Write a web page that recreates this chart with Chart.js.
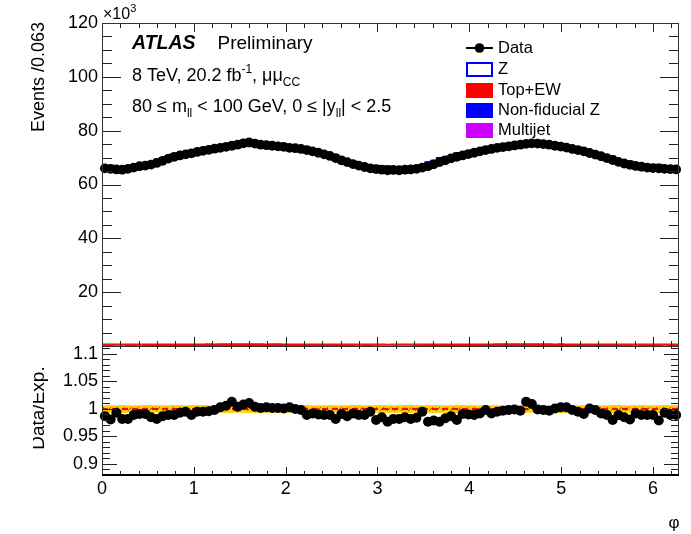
<!DOCTYPE html>
<html><head><meta charset="utf-8">
<script src="https://cdn.jsdelivr.net/npm/chart.js@4.4.1/dist/chart.umd.min.js"></script>
<style>
html,body{margin:0;padding:0;background:#fff;}
#wrap{position:relative;width:691px;height:534px;overflow:hidden;}
canvas{position:absolute;left:0;top:0;}
</style></head><body>
<div id="wrap"><canvas id="cTop" width="691" height="534"></canvas><canvas id="cBot" width="691" height="534"></canvas></div>
<script>
// ---------------- DATA ----------------
const nBins = 100;
const phiMax = 2 * Math.PI;
const xTicks = [0, 1, 2, 3, 4, 5, 6];
const topYTicks = [0, 20, 40, 60, 80, 100, 120];
const ratioYTicks = [0.9, 0.95, 1, 1.05, 1.1];

// Data events per bin (x10^3)
const dataEvents = [
  66.0, 65.8, 65.6, 65.5, 65.8, 66.3, 66.8, 67.0, 67.4, 68.0,
  68.8, 69.6, 70.3, 70.8, 71.2, 71.6, 72.1, 72.5, 72.9, 73.3,
  73.6, 74.0, 74.4, 74.8, 75.3, 75.6, 75.2, 74.8, 74.6, 74.4,
  74.2, 74.0, 73.6, 73.5, 73.2, 72.8, 72.3, 71.8, 71.2, 70.6,
  69.8, 69.0, 68.3, 67.6, 67.0, 66.5, 66.0, 65.7, 65.5, 65.3,
  65.4, 65.3, 65.5, 65.6, 65.8, 66.3, 66.8, 67.5, 68.3, 69.0,
  69.7, 70.3, 70.8, 71.3, 71.8, 72.3, 72.8, 73.2, 73.6, 73.9,
  74.2, 74.5, 74.8, 75.1, 75.3, 75.2, 75.0, 74.8, 74.4, 74.1,
  73.7, 73.2, 72.8, 72.3, 71.7, 71.1, 70.5, 69.8, 69.1, 68.4,
  67.8, 67.3, 66.9, 66.6, 66.3, 66.1, 66.0, 65.8, 65.7, 65.6
];

// Data / Expectation ratio per bin
const ratioVals = [
  0.987, 0.981, 0.993, 0.982, 0.982, 0.989, 0.991, 0.991, 0.985, 0.982,
  0.987, 0.989, 0.989, 0.993, 0.995, 0.989, 0.995, 0.995, 0.996, 0.998,
  1.003, 1.006, 1.013, 1.004, 1.008, 1.011, 1.004, 1.002, 1.003, 1.002,
  1.002, 1.001, 1.003, 1.000, 0.998, 0.989, 0.992, 0.990, 0.989, 0.989,
  0.982, 0.991, 0.987, 0.992, 0.989, 0.989, 0.995, 0.980, 0.985, 0.977,
  0.982, 0.982, 0.985, 0.982, 0.984, 0.995, 0.977, 0.979, 0.977, 0.983,
  0.987, 0.980, 0.991, 0.990, 0.989, 0.992, 0.998, 0.992, 0.995, 0.997,
  0.998, 0.999, 0.997, 1.013, 1.009, 0.999, 0.998, 0.997, 1.001, 1.003,
  1.003, 0.998, 0.995, 0.991, 1.001, 0.998, 0.992, 0.989, 0.980, 0.989,
  0.985, 0.981, 0.992, 0.989, 0.989, 0.989, 0.979, 0.993, 0.989, 0.989
];

// Backgrounds (x10^3)
const topEW = [
  0.36,0.36,0.35,0.36,0.35,0.35,0.36,0.36,0.37,0.36, 0.36,0.37,0.37,0.38,0.37,0.38,0.38,0.38,0.39,0.38,
  0.39,0.39,0.39,0.40,0.40,0.40,0.40,0.39,0.39,0.39, 0.39,0.38,0.38,0.38,0.38,0.37,0.37,0.37,0.36,0.36,
  0.36,0.35,0.35,0.35,0.35,0.34,0.34,0.34,0.34,0.34, 0.34,0.34,0.34,0.35,0.35,0.35,0.35,0.36,0.36,0.36,
  0.37,0.37,0.37,0.38,0.38,0.38,0.38,0.39,0.39,0.39, 0.39,0.40,0.40,0.40,0.40,0.40,0.39,0.39,0.39,0.39,
  0.38,0.38,0.38,0.37,0.37,0.37,0.36,0.36,0.36,0.36, 0.35,0.35,0.35,0.35,0.35,0.35,0.35,0.36,0.35,0.36
];
const nonFidZ = [
  0.27,0.27,0.27,0.26,0.27,0.27,0.27,0.28,0.28,0.28, 0.28,0.29,0.29,0.29,0.30,0.30,0.30,0.30,0.31,0.31,
  0.31,0.31,0.31,0.32,0.32,0.32,0.32,0.31,0.31,0.31, 0.31,0.31,0.31,0.30,0.30,0.30,0.30,0.29,0.29,0.29,
  0.28,0.28,0.28,0.27,0.27,0.27,0.27,0.26,0.26,0.26, 0.26,0.26,0.26,0.27,0.27,0.27,0.27,0.28,0.28,0.28,
  0.29,0.29,0.29,0.30,0.30,0.30,0.30,0.31,0.31,0.31, 0.31,0.31,0.32,0.32,0.32,0.32,0.31,0.31,0.31,0.31,
  0.30,0.30,0.30,0.30,0.29,0.29,0.29,0.28,0.28,0.28, 0.28,0.27,0.27,0.27,0.27,0.27,0.27,0.26,0.27,0.27
];
const multijet = [
  0.06,0.06,0.05,0.06,0.06,0.06,0.05,0.06,0.06,0.06, 0.06,0.06,0.05,0.06,0.06,0.06,0.06,0.05,0.06,0.06,
  0.06,0.06,0.06,0.05,0.06,0.06,0.06,0.06,0.05,0.06, 0.06,0.06,0.06,0.06,0.05,0.06,0.06,0.06,0.06,0.05,
  0.06,0.06,0.06,0.06,0.05,0.06,0.06,0.06,0.06,0.05, 0.06,0.06,0.06,0.05,0.06,0.06,0.06,0.06,0.05,0.06,
  0.06,0.06,0.05,0.06,0.06,0.06,0.06,0.05,0.06,0.06, 0.06,0.06,0.06,0.05,0.06,0.06,0.06,0.06,0.05,0.06,
  0.06,0.06,0.06,0.06,0.05,0.06,0.06,0.06,0.06,0.05, 0.06,0.06,0.05,0.06,0.06,0.06,0.06,0.05,0.06,0.06
];

// Uncertainty bands on the ratio
const systErr = [
  0.0070,0.0069,0.0070,0.0071,0.0070,0.0069,0.0070,0.0072,0.0071,0.0070, 0.0069,0.0070,0.0071,0.0070,0.0069,0.0070,0.0072,0.0071,0.0070,0.0069,
  0.0070,0.0071,0.0070,0.0069,0.0070,0.0072,0.0071,0.0070,0.0069,0.0070, 0.0071,0.0070,0.0069,0.0070,0.0072,0.0071,0.0070,0.0069,0.0070,0.0071,
  0.0070,0.0069,0.0070,0.0072,0.0071,0.0070,0.0069,0.0070,0.0071,0.0070, 0.0069,0.0070,0.0072,0.0071,0.0070,0.0069,0.0070,0.0071,0.0070,0.0069,
  0.0070,0.0072,0.0071,0.0070,0.0069,0.0070,0.0071,0.0070,0.0069,0.0070, 0.0072,0.0071,0.0070,0.0069,0.0070,0.0071,0.0070,0.0069,0.0070,0.0072,
  0.0071,0.0070,0.0069,0.0070,0.0071,0.0070,0.0069,0.0070,0.0072,0.0071, 0.0070,0.0069,0.0070,0.0071,0.0070,0.0069,0.0070,0.0072,0.0071,0.0070
];
const statErr = [
  0.0032,0.0031,0.0032,0.0033,0.0032,0.0031,0.0032,0.0032,0.0031,0.0031, 0.0031,0.0030,0.0030,0.0030,0.0030,0.0029,0.0029,0.0029,0.0029,0.0029,
  0.0029,0.0029,0.0029,0.0029,0.0029,0.0029,0.0029,0.0029,0.0029,0.0029, 0.0029,0.0029,0.0029,0.0029,0.0030,0.0030,0.0030,0.0030,0.0030,0.0031,
  0.0031,0.0031,0.0032,0.0032,0.0032,0.0032,0.0033,0.0033,0.0033,0.0033, 0.0033,0.0033,0.0033,0.0033,0.0033,0.0032,0.0032,0.0032,0.0031,0.0031,
  0.0031,0.0031,0.0030,0.0030,0.0030,0.0030,0.0030,0.0029,0.0029,0.0029, 0.0029,0.0029,0.0029,0.0029,0.0029,0.0029,0.0029,0.0029,0.0029,0.0029,
  0.0029,0.0030,0.0030,0.0030,0.0030,0.0030,0.0031,0.0031,0.0031,0.0031, 0.0032,0.0032,0.0032,0.0032,0.0032,0.0032,0.0032,0.0032,0.0033,0.0032
];

// ---------------- HELPERS ----------------
const binW = phiMax / nBins;
const FONT = "'Liberation Sans', Arial, Helvetica, sans-serif";
function stepPts(vals) {
  const pts = [];
  vals.forEach((v, i) => { pts.push({x: i * binW, y: v}); pts.push({x: (i + 1) * binW, y: v}); });
  return pts;
}
function centerPts(vals) { return vals.map((v, i) => ({x: (i + 0.5) * binW, y: v})); }

const bkgMJ = multijet.slice();
const bkgNF = multijet.map((v, i) => v + nonFidZ[i]);
const bkgAll = bkgNF.map((v, i) => v + topEW[i]);
const expTotal = dataEvents.map((v, i) => v / ratioVals[i]);   // Z + backgrounds
const zSignal = expTotal.map((v, i) => v - bkgAll[i]);
const zStackTop = zSignal.map((v, i) => v + bkgAll[i]);

function drawTicks(ctx, chart, o) {
  const {left, right, top, bottom} = chart.chartArea;
  const xs = chart.scales.x, ys = chart.scales.y;
  ctx.save();
  ctx.strokeStyle = '#222';
  ctx.lineWidth = 1;
  ctx.beginPath();
  const k0 = Math.ceil(ys.min / o.yMinor - 1e-6), k1 = Math.floor(ys.max / o.yMinor + 1e-6);
  for (let k = k0; k <= k1; k++) {
    const y = Math.round(ys.getPixelForValue(k * o.yMinor)) + 0.5;
    const L = (k % o.yRatio === 0) ? o.yMaj : o.yMin;
    ctx.moveTo(left, y); ctx.lineTo(left + L, y);
    ctx.moveTo(right, y); ctx.lineTo(right - L, y);
  }
  const j1 = Math.floor(xs.max / 0.2 + 1e-6);
  for (let j = 0; j <= j1; j++) {
    const x = Math.round(xs.getPixelForValue(j * 0.2)) + 0.5;
    const maj = (j % 5 === 0);
    const Lb = maj ? o.xMajB : o.xMinB, Lt = maj ? o.xMajT : o.xMinT;
    ctx.moveTo(x, bottom); ctx.lineTo(x, bottom - Lb);
    ctx.moveTo(x, top); ctx.lineTo(x, top + Lt);
  }
  ctx.stroke();
  ctx.restore();
}

function textRuns(ctx, x, y, runs) {
  let cx = x;
  runs.forEach(r => {
    ctx.font = (r.style || '') + ' ' + r.size + 'px ' + FONT;
    ctx.fillText(r.t, cx, y + (r.dy || 0));
    cx += ctx.measureText(r.t).width + (r.gap || 0);
  });
}

// ---------------- TOP PANEL ----------------
const topDecor = {
  id: 'topDecor',
  afterDraw(chart) {
    const ctx = chart.ctx;
    const {left, right, top, bottom} = chart.chartArea;
    drawTicks(ctx, chart, {yMinor: 5, yRatio: 4, yMaj: 19, yMin: 10, xMajB: 9, xMinB: 5, xMajT: 9, xMinT: 5});
    ctx.save();
    ctx.strokeStyle = '#333'; ctx.lineWidth = 1;
    ctx.strokeRect(left + 0.5, top + 0.5, right - left - 1, bottom - top);
    ctx.fillStyle = '#000';
    ctx.textBaseline = 'alphabetic';
    ctx.textAlign = 'left';
    // x10^3
    textRuns(ctx, 103, 19, [{t: '\u00d710', size: 16}, {t: '3', size: 11, dy: -7}]);
    // y title
    ctx.save();
    ctx.translate(44, 22); ctx.rotate(-Math.PI / 2);
    ctx.textAlign = 'right';
    ctx.font = '18px ' + FONT;
    ctx.fillText('Events /0.063', 0, 0);
    ctx.restore();
    // ATLAS label
    ctx.textAlign = 'left';
    textRuns(ctx, 132, 49, [{t: 'ATLAS', size: 19.5, style: 'italic bold', gap: 22}, {t: 'Preliminary', size: 19}]);
    textRuns(ctx, 132, 81, [
      {t: '8 TeV, 20.2 fb', size: 18}, {t: '-1', size: 12, dy: -8}, {t: ', \u03bc\u03bc', size: 18},
      {t: 'CC', size: 12, dy: 5}
    ]);
    textRuns(ctx, 132, 112, [
      {t: '80 \u2264 m', size: 18}, {t: 'll', size: 12, dy: 5}, {t: ' < 100 GeV, 0 \u2264 |y', size: 18},
      {t: 'll', size: 12, dy: 5}, {t: '| < 2.5', size: 18}
    ]);
    // legend
    const lx = 466, lw = 27, tx = 498;
    ctx.font = '16.5px ' + FONT;
    ctx.textBaseline = 'middle';
    ctx.strokeStyle = '#000'; ctx.lineWidth = 2;
    ctx.beginPath(); ctx.moveTo(lx, 48); ctx.lineTo(lx + lw, 48); ctx.stroke();
    ctx.beginPath(); ctx.arc(lx + lw / 2, 48, 4.8, 0, 2 * Math.PI); ctx.fill();
    ctx.fillText('Data', tx, 48);
    ctx.fillStyle = '#fff'; ctx.strokeStyle = '#0000ff'; ctx.lineWidth = 2;
    ctx.fillRect(lx + 1, 63, lw - 2, 13); ctx.strokeRect(lx + 1, 63, lw - 2, 13);
    ctx.fillStyle = '#000'; ctx.fillText('Z', tx, 69);
    const boxes = [['#ff0000', 'Top+EW', 90], ['#0000ff', 'Non-fiducial Z', 110], ['#cc00ff', 'Multijet', 130]];
    boxes.forEach(b => {
      ctx.fillStyle = b[0]; ctx.fillRect(lx, b[2] - 7, lw, 15);
      ctx.fillStyle = '#000'; ctx.fillText(b[1], tx, b[2]);
    });
    ctx.restore();
  }
};

const yFitW = s => { s.width = 102; };

new Chart(document.getElementById('cTop'), {
  type: 'line',
  data: {
    datasets: [
      {label: 'Multijet', data: stepPts(bkgMJ), fill: 'origin', backgroundColor: '#cc00ff', borderColor: '#cc00ff', borderWidth: 0, pointRadius: 0, order: 5},
      {label: 'Non-fiducial Z', data: stepPts(bkgNF), fill: '-1', backgroundColor: '#0000ff', borderColor: '#0000ff', borderWidth: 0, pointRadius: 0, order: 4},
      {label: 'Top+EW', data: stepPts(bkgAll), fill: '-1', backgroundColor: '#ff0000', borderColor: '#ff0000', borderWidth: 1.2, pointRadius: 0, order: 3},
      {label: 'Z', data: stepPts(zStackTop), fill: false, borderColor: '#0000ff', borderWidth: 1.5, pointRadius: 0, order: 2},
      {label: 'Data', data: centerPts(dataEvents), showLine: false, pointRadius: 4.9, pointBackgroundColor: '#000', pointBorderWidth: 0, pointBorderColor: '#000', order: 1, clip: 6}
    ]
  },
  options: {
    responsive: false, animation: false, devicePixelRatio: 1,
    layout: {padding: {top: 23, left: 0, right: 12, bottom: 188}},
    plugins: {legend: {display: false}, tooltip: {enabled: false}},
    elements: {line: {tension: 0}},
    scales: {
      x: {type: 'linear', min: 0, max: phiMax, display: false},
      y: {
        type: 'linear', min: 0, max: 120,
        afterBuildTicks: s => { s.ticks = topYTicks.map(v => ({value: v})); },
        afterFit: yFitW,
        grid: {display: false, drawTicks: false}, border: {display: false},
        ticks: {padding: 4, color: '#000', font: {family: FONT, size: 18}, callback: v => (v === 0 ? '' : String(v))}
      }
    }
  },
  plugins: [topDecor]
});

// ---------------- RATIO PANEL ----------------
const hatchCanvas = document.createElement('canvas');
hatchCanvas.width = 7; hatchCanvas.height = 7;
(function () {
  const h = hatchCanvas.getContext('2d');
  h.strokeStyle = 'rgba(0,0,0,0.75)'; h.lineWidth = 0.8;
  h.beginPath(); h.moveTo(0, 7); h.lineTo(7, 0); h.stroke();
})();
const hatchPattern = hatchCanvas.getContext('2d').createPattern(hatchCanvas, 'repeat');

const botDecor = {
  id: 'botDecor',
  afterDraw(chart) {
    const ctx = chart.ctx;
    const {left, right, top, bottom} = chart.chartArea;
    drawTicks(ctx, chart, {yMinor: 0.01, yRatio: 5, yMaj: 15, yMin: 8, xMajB: 8, xMinB: 4, xMajT: 5, xMinT: 3});
    ctx.save();
    ctx.strokeStyle = '#333'; ctx.lineWidth = 1;
    ctx.beginPath();
    ctx.moveTo(left + 0.5, top); ctx.lineTo(left + 0.5, bottom);
    ctx.moveTo(right - 0.5, top); ctx.lineTo(right - 0.5, bottom);
    ctx.moveTo(left, top + 0.5); ctx.lineTo(right, top + 0.5);
    ctx.stroke();
    ctx.strokeStyle = '#000'; ctx.lineWidth = 2;
    ctx.beginPath(); ctx.moveTo(left, bottom); ctx.lineTo(right, bottom); ctx.stroke();
    ctx.fillStyle = '#000';
    // y title (clipped at left as in the reference)
    ctx.save();
    ctx.beginPath(); ctx.rect(33, top, 40, bottom - top); ctx.clip();
    ctx.translate(44, 408); ctx.rotate(-Math.PI / 2);
    ctx.textAlign = 'center'; ctx.textBaseline = 'alphabetic';
    ctx.font = '19px ' + FONT;
    ctx.fillText('Data/Exp.', 0, 0);
    ctx.restore();
    // x title
    ctx.textAlign = 'center'; ctx.textBaseline = 'alphabetic';
    ctx.font = '17px ' + FONT;
    ctx.fillText('\u03c6', 674, 528);
    ctx.restore();
  }
};

new Chart(document.getElementById('cBot'), {
  type: 'line',
  data: {
    datasets: [
      {label: 'syst up', data: stepPts(systErr.map(e => 1 + e)), fill: '+1', backgroundColor: '#ffcc00', borderWidth: 0, pointRadius: 0, order: 4},
      {label: 'syst dn', data: stepPts(systErr.map(e => 1 - e)), fill: false, borderWidth: 0, pointRadius: 0, order: 4},
      {label: 'stat up', data: stepPts(statErr.map(e => 1 + e)), fill: '+1', backgroundColor: hatchPattern, borderWidth: 0, pointRadius: 0, order: 3},
      {label: 'stat dn', data: stepPts(statErr.map(e => 1 - e)), fill: false, borderWidth: 0, pointRadius: 0, order: 3},
      {label: 'unity', data: [{x: 0, y: 1}, {x: phiMax, y: 1}], borderColor: '#ff0000', borderWidth: 2, borderDash: [6, 4], pointRadius: 0, fill: false, order: 2},
      {label: 'Data/Exp.', data: centerPts(ratioVals), showLine: false, pointRadius: 5, pointBackgroundColor: '#000', pointBorderWidth: 0, order: 1, clip: 6}
    ]
  },
  options: {
    responsive: false, animation: false, devicePixelRatio: 1,
    layout: {padding: {top: 346, left: 0, right: 12, bottom: 0}},
    plugins: {legend: {display: false}, tooltip: {enabled: false}},
    elements: {line: {tension: 0}},
    scales: {
      x: {
        type: 'linear', min: 0, max: phiMax,
        afterBuildTicks: s => { s.ticks = xTicks.map(v => ({value: v})); },
        afterFit: s => { s.height = 59; },
        grid: {display: false, drawTicks: false}, border: {display: false},
        ticks: {padding: 3, autoSkip: false, maxRotation: 0, color: '#000', font: {family: FONT, size: 18}, callback: v => String(v)}
      },
      y: {
        type: 'linear', min: 0.88, max: 1.1145,
        afterBuildTicks: s => { s.ticks = ratioYTicks.map(v => ({value: v})); },
        afterFit: yFitW,
        grid: {display: false, drawTicks: false}, border: {display: false},
        ticks: {padding: 4, color: '#000', font: {family: FONT, size: 18}, callback: v => String(v)}
      }
    }
  },
  plugins: [botDecor]
});
</script>
</body></html>
